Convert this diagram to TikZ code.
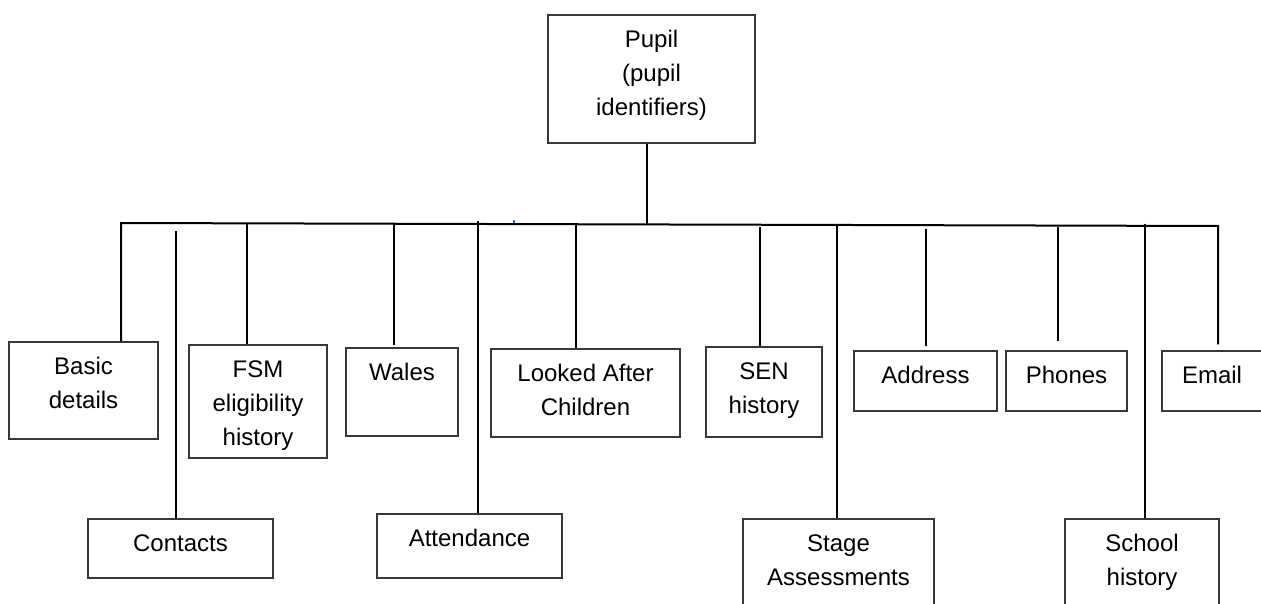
\documentclass[tikz,border=0pt]{standalone}
\usepackage{fontspec}
\setmainfont{Liberation Sans}
\usetikzlibrary{calc}
\newcommand\boxtext[3]{\parbox[c][#2pt][t]{#1pt}{\centering\fontsize{24}{34}\selectfont\vspace*{8.8pt}\strut#3}}
\tikzset{
  entity/.style={draw=black!78, line width=1.3pt, inner sep=0pt},
  conn/.style={draw=black, line width=2pt},
}
\begin{document}
\begin{tikzpicture}[x=1pt,y=-1pt]
\useasboundingbox (0,0) rectangle (1261,604);
\clip (0,0) rectangle (1261,604);
% boxes
\node[entity] (pupil)    at (651.5,79)    {\boxtext{207}{128}{Pupil\\(pupil\\identifiers)}};
\node[entity] (basic)    at (83.5,390.5)  {\boxtext{149}{97}{Basic\\details}};
\node[entity] (contacts) at (180.5,548.5) {\boxtext{185}{59}{Contacts}};
\node[entity] (fsm)      at (258,401.5)   {\boxtext{138}{113}{FSM\\eligibility\\history}};
\node[entity] (wales)    at (402,392)     {\boxtext{112}{88}{Wales}};
\node[entity] (attend)   at (469.5,546)   {\boxtext{185}{64}{Attendance}};
\node[entity] (looked)   at (585.5,393)   {\boxtext{189}{88}{Looked After\\Children}};
\node[entity] (sen)      at (764,392)     {\boxtext{116}{90}{SEN\\history}};
\node[entity] (stage)    at (838.5,569.5) {\boxtext{191}{101}{Stage\\Assessments}};
\node[entity] (address)  at (925.5,381)   {\boxtext{143}{60}{Address}};
\node[entity] (phones)   at (1066.5,381)  {\boxtext{121}{60}{Phones}};
\node[entity] (school)   at (1142,569.5)  {\boxtext{154}{101}{School\\history}};
\node[entity] (email)    at (1212,381)    {\boxtext{100}{60}{Email}};
% bus line
\coordinate (busL) at (121,223);
\coordinate (busR) at (1218,226);
\coordinate (tPupil)    at (647,224.4);
\coordinate (tContacts) at (176,231);
\coordinate (tFsm)      at (247,223.3);
\coordinate (tWales)    at (394,223.7);
\coordinate (tAttend)   at (478,221);
\coordinate (tLooked)   at (576,224.2);
\coordinate (tSen)      at (760,227);
\coordinate (tStage)    at (837,225);
\coordinate (tAddress)  at (926,229);
\coordinate (tPhones)   at (1058,227);
\coordinate (tSchool)   at (1145,224);
\draw[conn] (basic.north -| busL) -- (busL) -- (busR) -- ([yshift=6pt]busR |- email.north);
\draw[conn] (pupil.south -| tPupil) -- (tPupil);
\draw[conn] (tContacts) -- (tContacts |- contacts.north);
\draw[conn] (tFsm) -- (tFsm |- fsm.north);
\draw[conn] (tWales) -- ([yshift=2pt]tWales |- wales.north);
\draw[conn] (tAttend) -- (tAttend |- attend.north);
\draw[conn] (tLooked) -- (tLooked |- looked.north);
\draw[conn] (tSen) -- (tSen |- sen.north);
\draw[conn] (tStage) -- (tStage |- stage.north);
\draw[conn] (tAddress) -- ([yshift=4pt]tAddress |- address.north);
\draw[conn] (tPhones) -- ([yshift=9pt]tPhones |- phones.north);
\draw[conn] (tSchool) -- (tSchool |- school.north);
% small blue mark on the bus
\draw[color={rgb,255:red,68;green,114;blue,196}, line width=1.5pt] (514,220) -- (514,223.3);
\end{tikzpicture}
\end{document}
